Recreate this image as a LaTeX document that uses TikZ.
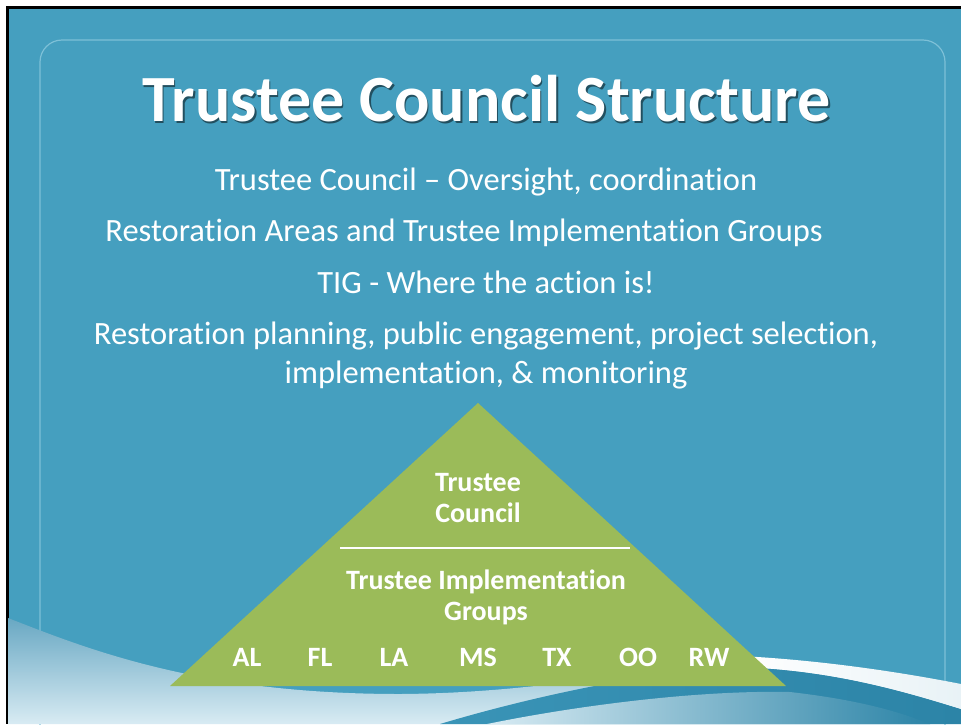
\documentclass[tikz,border=0pt]{standalone}
\usepackage{fontspec}
\setmainfont{Carlito}[Ligatures={NoCommon,NoContextual}]
\definecolor{bgblue}{RGB}{69,159,191}
\definecolor{rrline}{RGB}{125,192,215}
\definecolor{tgreen}{RGB}{155,187,89}
\definecolor{lightw}{RGB}{216,235,243}
\definecolor{midw}{RGB}{105,168,195}
\definecolor{darkw}{RGB}{44,132,167}
\definecolor{bandw}{RGB}{58,148,183}
\tikzset{
  titletxt/.style={anchor=base, text=white, font=\fontsize{66}{78}\selectfont\bfseries, inner sep=0pt},
  titleshadow/.style={anchor=base, text=black, opacity=0.5, font=\fontsize{66}{78}\selectfont\bfseries, inner sep=0pt},
  bodytxt/.style={anchor=base, text=white, font=\fontsize{32.5}{39}\selectfont, inner sep=0pt},
  tritxt/.style={anchor=base, text=white, font=\fontsize{28}{31}\selectfont\bfseries, inner sep=0pt},
}
\begin{document}
\begin{tikzpicture}[x=1pt,y=-1pt]
\useasboundingbox (0,0) rectangle (961,724);
\clip (0,0) rectangle (961,724);
\fill[white] (0,0) rectangle (961,724);
\fill[black] (5.5,5.5) rectangle (961,724);
\fill[bgblue] (8.5,8.5) rectangle (961,724);
% rounded frame
\draw[rrline, line width=1.2pt, rounded corners=22] (40,780) -- (40,40) -- (945,40) -- (945,780);
% light wave bottom-left
\shade[top color=midw, bottom color=lightw]
  (8,618) .. controls (90,650) and (200,694) .. (400,694)
  .. controls (560,693) and (680,660) .. (760,660) -- (961,690) -- (961,724) -- (8,724) -- cycle;
% dark band
\shade[left color=bandw, right color=darkw]
  (440,724) .. controls (520,700) and (640,672) .. (740,667)
  .. controls (830,670) and (900,690) .. (961,709) -- (961,724) -- cycle;
% lighter wedge under band
\shade[left color=lightw, right color=darkw]
  (487,724) .. controls (580,705) and (700,690) .. (790,692)
  .. controls (860,700) and (900,712) .. (930,724) -- cycle;
% white stripe
\shade[left color=white, right color={rgb,255:red,232;green,242;blue,246}]
  (740,656) .. controls (820,660) and (900,672) .. (961,684)
  -- (961,709) .. controls (900,690) and (830,670) .. (740,667) -- cycle;
% title
\node[titleshadow] (titles) at (488,123) {Trustee Council Structure};
\node[titletxt] (title) at (486.5,121) {Trustee Council Structure};
% body lines
\node[bodytxt] (l1) at (486,190) {Trustee Council – Oversight, coordination};
\node[bodytxt] (l2) at (464,241) {Restoration Areas and Trustee Implementation Groups};
\node[bodytxt] (l3) at (486,293) {TIG - Where the action is!};
\node[bodytxt] (l4) at (486,344) {Restoration planning, public engagement, project selection,};
\node[bodytxt] (l5) at (486,383) {implementation, \& monitoring};
% triangle
\coordinate (apex) at (478,403);
\coordinate (bl) at (170,686);
\coordinate (br) at (786,686);
\fill[tgreen] (apex) -- (bl) -- (br) -- cycle;
\node[tritxt] (tc1) at (478,491) {Trustee};
\node[tritxt] (tc2) at (478,522) {Council};
\coordinate (sepL) at (340,548);
\coordinate (sepR) at (630,548);
\draw[white, line width=2.5pt] (sepL) -- (sepR);
\node[tritxt] (tig1) at (486,589) {Trustee Implementation};
\node[tritxt] (tig2) at (486,620) {Groups};
\node[tritxt] (al) at (247,666) {AL};
\node[tritxt] (fl) at (320,666) {FL};
\node[tritxt] (la) at (394,666) {LA};
\node[tritxt] (ms) at (478,666) {MS};
\node[tritxt] (tx) at (557,666) {TX};
\node[tritxt] (oo) at (638,666) {OO};
\node[tritxt] (rw) at (709,666) {RW};
\end{tikzpicture}
\end{document}
